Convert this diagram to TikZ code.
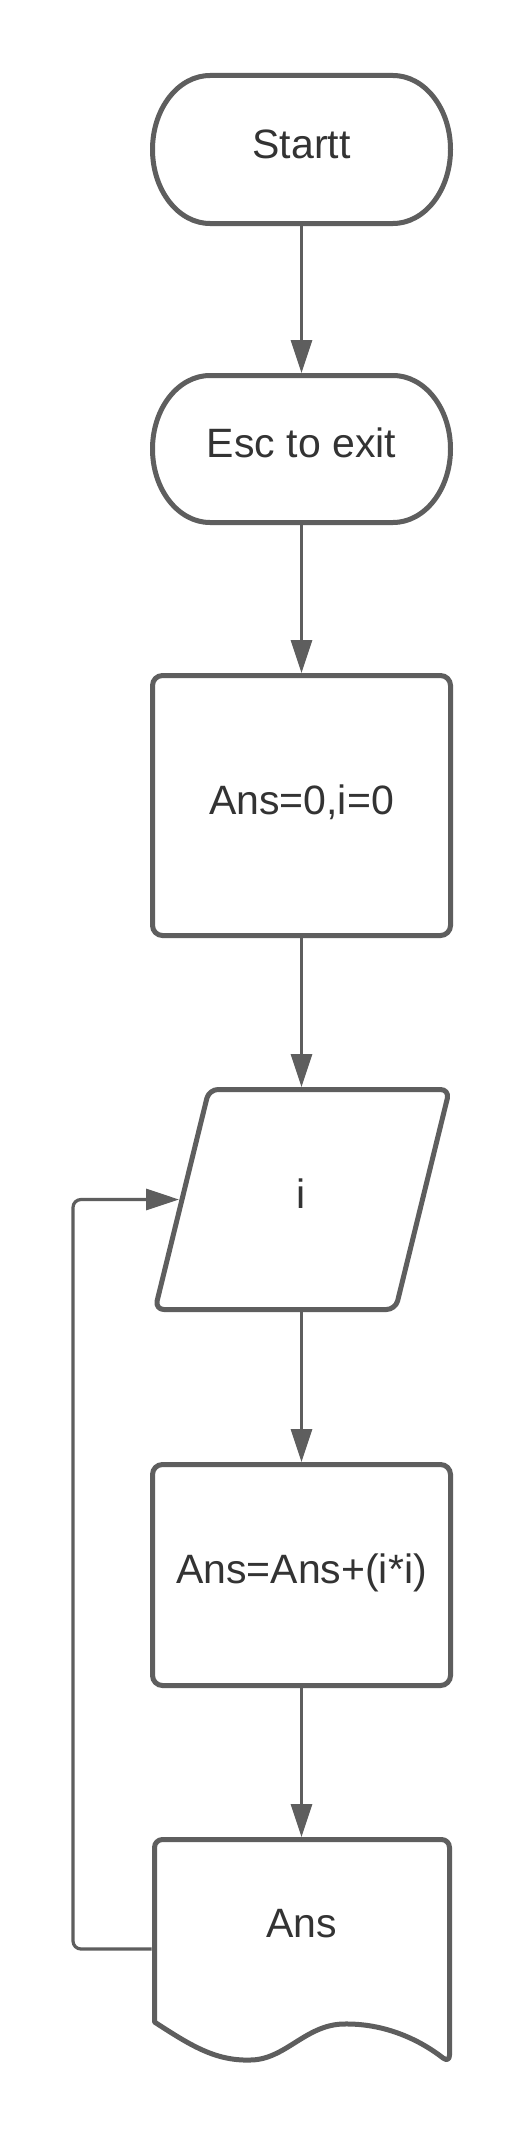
\documentclass[tikz,border=0pt]{standalone}
\usepackage{fontspec}
\setmainfont{Liberation Sans}
\usetikzlibrary{arrows.meta,calc}
\definecolor{lc}{HTML}{5E5E5E}
\definecolor{tc}{HTML}{333333}
\begin{document}
\begin{tikzpicture}[x=1pt,y=-1pt,
  txt/.style={font=\fontsize{41}{49}\selectfont, text=tc, text height=28.7pt, text depth=11.5pt, inner sep=0pt, outer sep=0pt},
  ghost/.style={txt, shape=rectangle},
  boxstyle/.style={txt, shape=rectangle, draw=lc, line width=5pt, rounded corners=10pt, outer sep=2.5pt},
  shapeline/.style={draw=lc, line width=5pt, line join=round},
  conn/.style={draw=lc, line width=3.2pt, -{Triangle[length=33pt,width=21pt]}}]
\useasboundingbox (0,0) rectangle (529,2138);
\fill[white] (0,0) rectangle (529,2138);

% nodes
\node[ghost, minimum width=303pt, minimum height=153pt] (start) at (301.5,149.5) {Startt};
\node[ghost, minimum width=303pt, minimum height=152pt] (esc) at (301.5,449) {Esc to exit};
\node[boxstyle, minimum width=298pt, minimum height=260pt] (init) at (301.5,805.5) {Ans=0,i=0};
\node[ghost, minimum width=245pt, minimum height=225pt] (inp) at (301.5,1199.5) {i};
\node[boxstyle, minimum width=298pt, minimum height=221pt] (upd) at (301.5,1575) {Ans=Ans+(i*i)};
\node[ghost, minimum width=300pt, minimum height=183pt] (out) at (301.5,1928.5) {Ans};

% terminal outlines
\draw[shapeline] ($(start.north west)+(60,2.5)$) -- ($(start.north east)+(-60,2.5)$)
  arc[start angle=-90,end angle=90,x radius=57.5,y radius=74]
  -- ($(start.south west)+(60,-2.5)$)
  arc[start angle=90,end angle=270,x radius=57.5,y radius=74] -- cycle;
\draw[shapeline] ($(esc.north west)+(60,2.5)$) -- ($(esc.north east)+(-60,2.5)$)
  arc[start angle=-90,end angle=90,x radius=57.5,y radius=73.5]
  -- ($(esc.south west)+(60,-2.5)$)
  arc[start angle=90,end angle=270,x radius=57.5,y radius=73.5] -- cycle;

% parallelogram outline
\draw[shapeline, rounded corners=9pt] (209,1089.5) -- (449.5,1089.5) -- (395.5,1309.5) -- (155,1309.5) -- cycle;

% document outline
\draw[shapeline] (154.5,2022) [rounded corners=8pt] -- (154.5,1839.5) -- (449.5,1839.5) -- (449.5,2063) [sharp corners]
  .. controls (420,2040) and (385,2023) .. (343,2024)
  .. controls (305,2025) and (285,2060) .. (250,2060)
  .. controls (215,2061) and (190,2045) .. (154.5,2022) -- cycle;

% connectors
\draw[conn] (start.south) -- (esc.north);
\draw[conn] (esc.south) -- (init.north);
\draw[conn] (init.south) -- (inp.north);
\draw[conn] (inp.south) -- (upd.north);
\draw[conn] (upd.south) -- (out.north);
\coordinate (loopx) at (73,1199.5);
\draw[conn, rounded corners=8pt] ([yshift=-20.5pt]out.west) -| (loopx) -- (inp.west);
\end{tikzpicture}
\end{document}
